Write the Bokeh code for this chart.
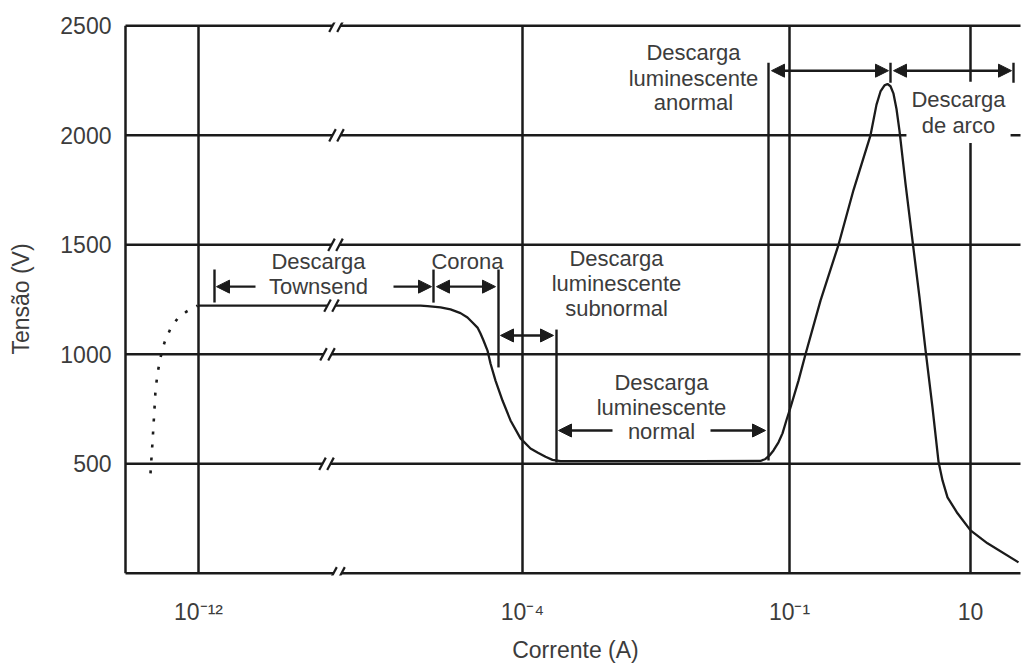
import numpy as np
from bokeh.plotting import figure
from bokeh.models import Range1d, FixedTicker, Label, Arrow, NormalHead, ColumnDataSource
from bokeh.embed import file_html
from bokeh.resources import INLINE
from bokeh.core.properties import value

# ---------------- data ----------------
# positions along the broken (non-uniform) current axis, in chart units
tick_pos = [198, 522, 789, 970]
tick_labels = ["10\u207b\u00b9\u00b2", "10\u207b\u2074", "10\u207b\u00b9", "10"]
voltage_ticks = [500, 1000, 1500, 2000, 2500]

# dotted onset before the Townsend region
onset_x = [150, 151, 152, 153, 154, 155, 157, 160, 164, 170, 177, 186, 197]
onset_v = [456, 529, 598, 675, 753, 835, 912, 985, 1054, 1118, 1163, 1195, 1222]

# solid V-I characteristic
curve_x = [198, 420, 427, 440, 450, 460, 467, 472, 477, 480, 483, 487, 490, 495,
           502, 510, 520, 530, 537, 545, 552, 560, 700, 760, 765, 769, 773, 778,
           782, 786, 790, 798, 805, 820, 838, 853, 870, 876, 880, 884, 887, 890, 893, 896,
           899, 905, 912, 919, 925, 932, 938, 942, 947, 957, 970, 987, 1018]
curve_v = [1222, 1222, 1220, 1214, 1205, 1188, 1168, 1145, 1122, 1095, 1063, 1017, 958, 880,
           789, 698, 616, 570, 552, 532, 518, 512, 512, 513, 522, 538, 561, 598,
           639, 700, 757, 880, 1000, 1245, 1500, 1750, 2000, 2140, 2200, 2228, 2234, 2224, 2190, 2120,
           2020, 1779, 1519, 1260, 1020, 757, 510, 424, 347, 274, 196, 137, 50]

# axis-break marks ("//") on each horizontal line
break_levels = [0, 500, 1000, 1222, 1500, 2000, 2500]
break_pos = [337, 326, 327, 331, 335, 336, 336]

# ---------------- layout / style ----------------
X_LEFT, X_RIGHT = 125, 1020
LINE = "#1b1b1b"
TXT = "#3c3c3c"
FONT = "Liberation Sans"

p = figure(width=1028, height=666, output_backend="svg", toolbar_location=None,
           x_range=Range1d(122, 1028), y_range=Range1d(-10, 2515),
           min_border_left=122, min_border_right=0, min_border_top=22, min_border_bottom=91)
p.outline_line_color = None
p.xgrid.grid_line_color = None
p.ygrid.grid_line_color = None
p.background_fill_color = "white"

for ax in (p.xaxis[0], p.yaxis[0]):
    ax.axis_line_color = None
    ax.major_tick_line_color = None
    ax.minor_tick_line_color = None
    ax.major_label_text_font = FONT
    ax.major_label_text_font_size = "23px"
    ax.major_label_text_color = TXT
    ax.axis_label_text_font = FONT
    ax.axis_label_text_font_size = "23px"
    ax.axis_label_text_font_style = "normal"
    ax.axis_label_text_color = TXT

p.xaxis.ticker = FixedTicker(ticks=tick_pos)
p.xaxis.major_label_overrides = {t: l for t, l in zip(tick_pos, tick_labels)}
p.xaxis.major_label_standoff = 17
p.xaxis.axis_label = "Corrente (A)"
p.xaxis.axis_label_standoff = 9

p.yaxis.ticker = FixedTicker(ticks=voltage_ticks)
p.yaxis.major_label_standoff = 5
p.yaxis.axis_label = "Tensão (V)"
p.yaxis.axis_label_standoff = 23

# horizontal lines with breaks
hx0, hy0, hx1, hy1 = [], [], [], []
for lvl, bx in zip(break_levels, break_pos):
    if lvl in voltage_ticks or lvl == 0:
        hx0 += [X_LEFT, bx + 4]
        hx1 += [bx - 4, X_RIGHT]
        hy0 += [lvl, lvl]
        hy1 += [lvl, lvl]
p.segment(hx0, hy0, hx1, hy1, line_color=LINE, line_width=2.5)

# vertical grid lines and left border
vx = [X_LEFT] + tick_pos
p.segment(vx, [0] * len(vx), vx, [2500] * len(vx), line_color=LINE, line_width=2.5)

# break slashes
sx, sy = [], []
for lvl, bx in zip(break_levels, break_pos):
    sx += [bx - 4, bx + 4]
    sy += [lvl, lvl]
p.scatter(sx, sy, marker="dash", size=14, angle=1.08, line_color=LINE, line_width=2.2)

# curve (split at the break)
bx = break_pos[break_levels.index(1222)]
cx = np.array(curve_x, float)
cv = np.array(curve_v, float)
left = cx < bx
xl = list(cx[left]) + [bx - 4]
vl = list(cv[left]) + [float(np.interp(bx - 4, cx, cv))]
xr = [bx + 4] + list(cx[~left])
vr = [float(np.interp(bx + 4, cx, cv))] + list(cv[~left])
p.multi_line([xl, xr], [vl, vr], line_color=LINE, line_width=2.3)
p.line(onset_x, onset_v, line_color=LINE, line_width=2.6, line_dash="3 10")

# region bars
bar_x = [214, 433, 498, 556, 768, 890, 1013]
bar_y0 = [1236, 1236, 940, 506, 515, 2240, 2240]
bar_y1 = [1387, 1387, 1387, 1113, 2331, 2331, 2331]
p.segment(bar_x, bar_y0, bar_x, bar_y1, line_color=LINE, line_width=2.4)

# arrows
single = ColumnDataSource(dict(x0=[255, 393, 612, 710], y0=[1309, 1309, 652, 652],
                               x1=[216, 431, 558, 765], y1=[1309, 1309, 652, 652]))
double = ColumnDataSource(dict(x0=[436, 500, 771, 893], y0=[1309, 1086, 2295, 2295],
                               x1=[495, 553, 888, 1011], y1=[1309, 1086, 2295, 2295]))
p.add_layout(Arrow(source=single, x_start="x0", y_start="y0", x_end="x1", y_end="y1",
                   start=None, end=NormalHead(size=13, fill_color=LINE, line_color=LINE),
                   line_color=LINE, line_width=2.4))
p.add_layout(Arrow(source=double, x_start="x0", y_start="y0", x_end="x1", y_end="y1",
                   start=NormalHead(size=13, fill_color=LINE, line_color=LINE),
                   end=NormalHead(size=13, fill_color=LINE, line_color=LINE),
                   line_color=LINE, line_width=2.4))

# annotation texts
ann = ColumnDataSource(dict(
    t=["Descarga", "Townsend", "Corona", "Descarga", "luminescente", "subnormal",
       "Descarga", "luminescente", "normal", "Descarga", "luminescente", "anormal"],
    x=[318, 318, 467, 616, 616, 616, 661, 661, 661, 693, 693, 693],
    y=[1426, 1309, 1426, 1437, 1323, 1209, 871, 757, 648, 2377, 2258, 2149]))
p.text(x="x", y="y", text="t", source=ann, text_font=value(FONT), text_font_size="22px",
       text_color=TXT, text_align="center", text_baseline="middle")

p.add_layout(Label(x=958, y=2105, text="Descarga\nde arco", text_align="center",
                   text_baseline="middle", text_font=FONT, text_font_size="22px",
                   text_color=TXT, text_line_height=1.05,
                   background_fill_color="white", padding=5))

open("out.html", "w").write(file_html(p, INLINE))
